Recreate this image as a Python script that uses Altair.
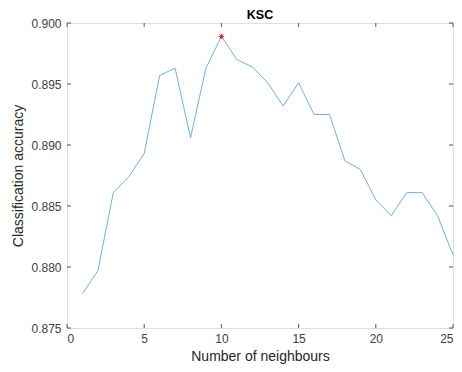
import altair as alt
import pandas as pd

neighbours = list(range(1, 26))
accuracy = [0.8778, 0.8797, 0.8861, 0.8874, 0.8893, 0.8957, 0.8963, 0.8906, 0.8963, 0.8989,
            0.8970, 0.8964, 0.8951, 0.8932, 0.8951, 0.8925, 0.8925, 0.8887, 0.8880, 0.8855,
            0.8842, 0.8861, 0.8861, 0.8842, 0.8810]
x_ticks = [0, 5, 10, 15, 20, 25]
y_ticks = [0.875, 0.880, 0.885, 0.890, 0.895, 0.900]

df = pd.DataFrame({"k": neighbours, "acc": accuracy})
best = df.loc[[df["acc"].idxmax()]]
xt = pd.DataFrame({"v": x_ticks})
yt = pd.DataFrame({"v": y_ticks})

W, H = 386, 305
FONT = "Liberation Sans"
xs = alt.Scale(domain=[0, 25], nice=False)
ys = alt.Scale(domain=[0.875, 0.900], nice=False, zero=False)

line = alt.Chart(df).mark_line(color="#5aa8e0", strokeWidth=0.9).encode(
    x=alt.X("k:Q", scale=xs,
            axis=alt.Axis(values=x_ticks, title="Number of neighbours", ticks=False, domain=False,
                          grid=False, labelFont=FONT, labelFontSize=12, labelColor="#404040",
                          labelPadding=5, titleFont=FONT, titleFontSize=14, titleFontWeight="normal",
                          titleColor="#262626", titlePadding=5)),
    y=alt.Y("acc:Q", scale=ys,
            axis=alt.Axis(values=y_ticks, format=".3f", title="Classification accuracy", ticks=False,
                          domain=False, grid=False, labelFont=FONT, labelFontSize=12,
                          labelColor="#404040", labelPadding=6, titleFont=FONT, titleFontSize=14,
                          titleFontWeight="normal", titleColor="#262626", titlePadding=5)),
)

star = alt.Chart(best).mark_point(
    shape="M-1,0L1,0M0,-1L0,1M-0.7,-0.7L0.7,0.7M-0.7,0.7L0.7,-0.7",
    filled=False, color="#e8202a", size=30, strokeWidth=1, opacity=1,
).encode(x=alt.X("k:Q", scale=xs), y=alt.Y("acc:Q", scale=ys))

tick_col = "#555555"
bt = alt.Chart(xt).mark_rule(color=tick_col, strokeWidth=1).encode(
    x=alt.X("v:Q", scale=xs), y=alt.value(H - 4), y2=alt.value(H))
tt = alt.Chart(xt).mark_rule(color=tick_col, strokeWidth=1).encode(
    x=alt.X("v:Q", scale=xs), y=alt.value(0), y2=alt.value(4))
lt = alt.Chart(yt).mark_rule(color=tick_col, strokeWidth=1).encode(
    y=alt.Y("v:Q", scale=ys), x=alt.value(0), x2=alt.value(4))
rt = alt.Chart(yt).mark_rule(color=tick_col, strokeWidth=1).encode(
    y=alt.Y("v:Q", scale=ys), x=alt.value(W - 4), x2=alt.value(W))

chart = alt.layer(bt, tt, lt, rt, line, star).properties(
    width=W, height=H,
    title=alt.TitleParams("KSC", font=FONT, fontSize=12.5, fontWeight="bold", color="#000000",
                          anchor="middle", offset=-4),
    autosize=alt.AutoSizeParams(type="none"),
    padding={"left": 59, "top": 15, "right": 1, "bottom": 36},
).configure_view(stroke="#777777", strokeWidth=1).configure(background="white")

chart.save("out.html", embed_options={"renderer": "svg", "actions": False})
